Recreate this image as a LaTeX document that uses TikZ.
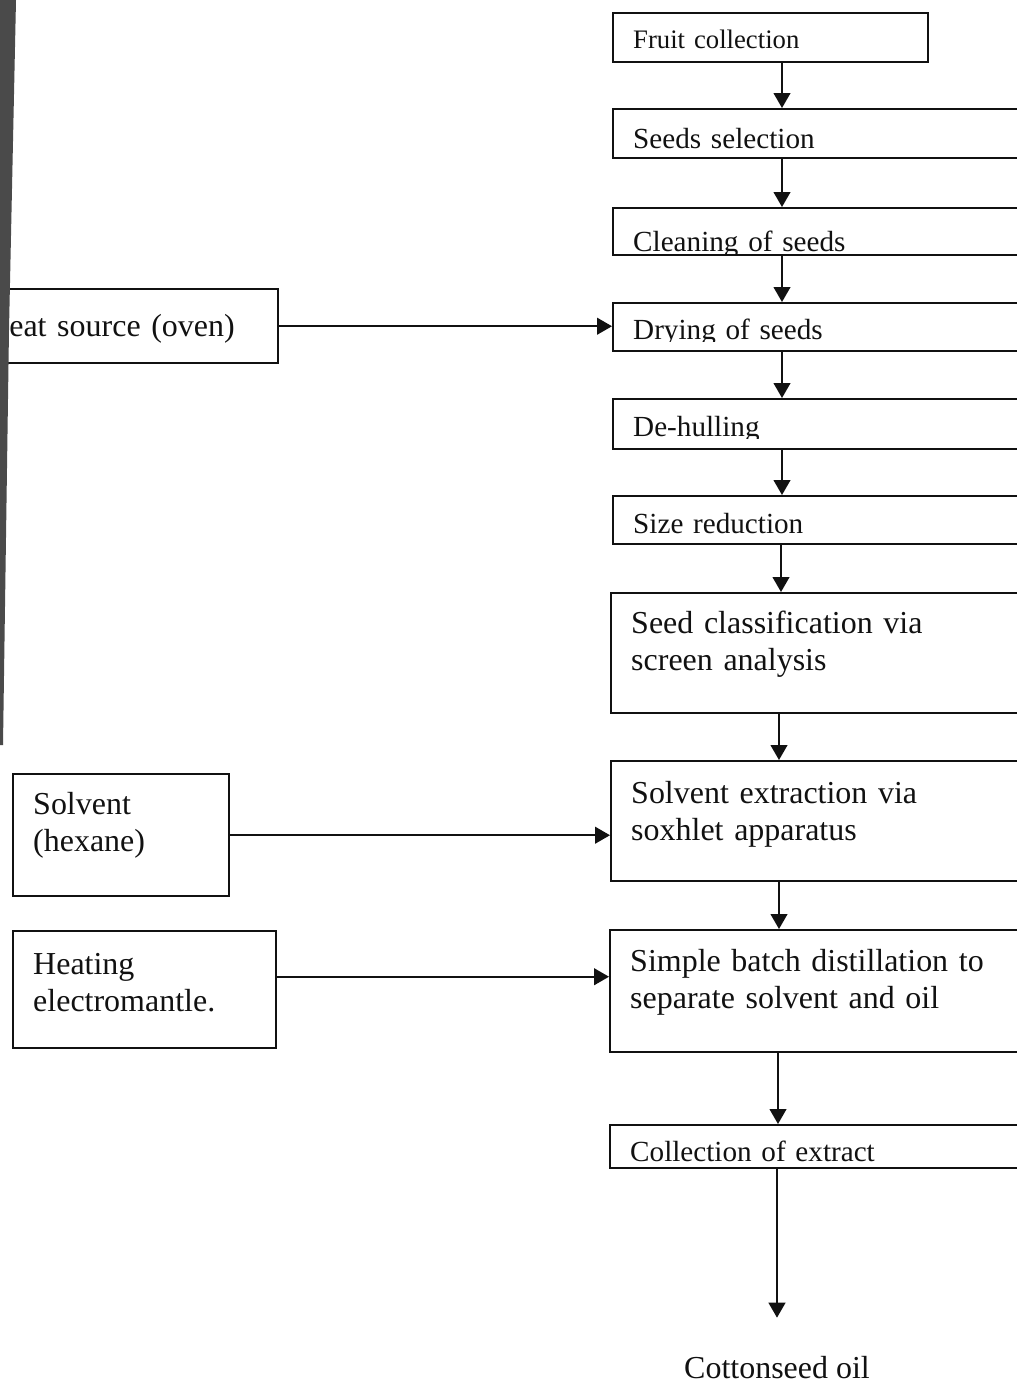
\documentclass[tikz,border=0pt]{standalone}
\usepackage{fontspec}
\setmainfont{Liberation Serif}
\usepackage{trimclip}
\usetikzlibrary{arrows.meta,calc}
\definecolor{csink}{HTML}{111111}
\definecolor{csshade}{HTML}{4A4A4A}
% descenders of some labels are cut by the frame in the scan
\newcommand{\cutdesc}[1]{\clipbox{0pt {\depth-1.2pt} 0pt 0pt}{#1}}
\tikzset{
  cs box/.style={draw=csink, line width=1.4pt, anchor=north west, inner xsep=0.4cm,
    inner ysep=0pt, align=left, text=csink},
  cs big/.style={font=\fontsize{18.2}{21.4}\selectfont},
  cs mid/.style={font=\fontsize{16.6}{19.5}\selectfont},
  cs small/.style={font=\fontsize{15.2}{18}\selectfont},
  cs arrow/.style={-{Triangle[length=8.5pt,width=9.5pt]}, line width=1.1pt, draw=csink},
  cs out/.style={anchor=base, inner sep=0pt, text=csink, font=\fontsize{18.2}{21.4}\selectfont}
}

\begin{document}
\begin{tikzpicture}[x=0.02cm, y=-0.02cm]
  \useasboundingbox (0,0) rectangle (1017,1384);
  \clip (0,0) rectangle (1017,1384);
  % main line
  \node[cs box, cs small, text width=5.5cm, text height=0.70cm, text depth=0.28cm] (fruit) at (612,12) {Fruit collection};
  \node[cs box, cs mid, text width=7.76cm, text height=0.78cm, text depth=0.20cm] (seeds) at (612,108) {Seeds selection};
  \node[cs box, cs mid, text width=7.76cm, text height=0.86cm, text depth=0.08cm] (clean) at (612,207) {\cutdesc{Cleaning of seeds}};
  \node[cs box, cs mid, text width=7.76cm, text height=0.72cm, text depth=0.24cm] (dry) at (612,302) {\cutdesc{Drying of seeds}};
  \node[cs box, cs mid, text width=7.76cm, text height=0.74cm, text depth=0.26cm] (dehull) at (612,398) {\cutdesc{De-hulling}};
  \node[cs box, cs mid, text width=7.76cm, text height=0.74cm, text depth=0.22cm] (size) at (612,495) {Size reduction};
  \node[cs box, cs big, text width=7.8cm, text height=0.80cm, text depth=1.60cm] (classify) at (610,592) {Seed classification via\\screen analysis};
  \node[cs box, cs big, text width=7.8cm, text height=0.84cm, text depth=1.56cm] (soxhlet) at (610,760) {Solvent extraction via\\soxhlet apparatus};
  \node[cs box, cs big, text width=7.82cm, text height=0.82cm, text depth=1.62cm] (distil) at (609,929) {Simple batch distillation to\\separate solvent and oil};
  \node[cs box, cs mid, text width=7.82cm, text height=0.72cm, text depth=0.14cm] (collect) at (609,1124) {Collection of extract};
  \node[cs out, text height=1.2cm] (oil) at (777,1378) {Cottonseed oil};
  % side inputs
  \node[cs box, cs big, text width=5.44cm, text height=0.94cm, text depth=0.54cm] (heat) at (-35,288) {Heat source (oven)};
  \node[cs box, cs big, text width=3.52cm, text height=0.80cm, text depth=1.64cm] (hexane) at (12,773) {Solvent\\(hexane)};
  \node[cs box, cs big, text width=4.46cm, text height=0.86cm, text depth=1.48cm] (mantle) at (12,930) {Heating\\electromantle.};
  % scanner shadow on the left edge
  \fill[csshade] (0,0) -- (16,0) -- (9,330) -- (3,745) -- (0,745) -- cycle;

  \draw[cs arrow] ($(fruit.south west)+(170,0)$) -- ($(seeds.north west)+(170,0)$);
  \draw[cs arrow] ($(seeds.south west)+(170,0)$) -- ($(clean.north west)+(170,0)$);
  \draw[cs arrow] ($(clean.south west)+(170,0)$) -- ($(dry.north west)+(170,0)$);
  \draw[cs arrow] ($(dry.south west)+(170,0)$) -- ($(dehull.north west)+(170,0)$);
  \draw[cs arrow] ($(dehull.south west)+(170,0)$) -- ($(size.north west)+(170,0)$);
  \draw[cs arrow] ($(size.south west)+(169,0)$) -- ($(classify.north west)+(171,0)$);
  \draw[cs arrow] ($(classify.south west)+(169,0)$) -- ($(soxhlet.north west)+(169,0)$);
  \draw[cs arrow] ($(soxhlet.south west)+(169,0)$) -- ($(distil.north west)+(170,0)$);
  \draw[cs arrow] ($(distil.south west)+(169,0)$) -- ($(collect.north west)+(169,0)$);
  \draw[cs arrow] ($(collect.south west)+(168,0)$) -- (oil.north);

  \draw[cs arrow] (heat.east) -- (heat.east -| dry.west);
  \draw[cs arrow] (hexane.east) -- (hexane.east -| soxhlet.west);
  \coordinate (mantleout) at ($(mantle.east)+(0,-13)$);
  \draw[cs arrow] (mantleout) -- (mantleout -| distil.west);
\end{tikzpicture}
\end{document}
